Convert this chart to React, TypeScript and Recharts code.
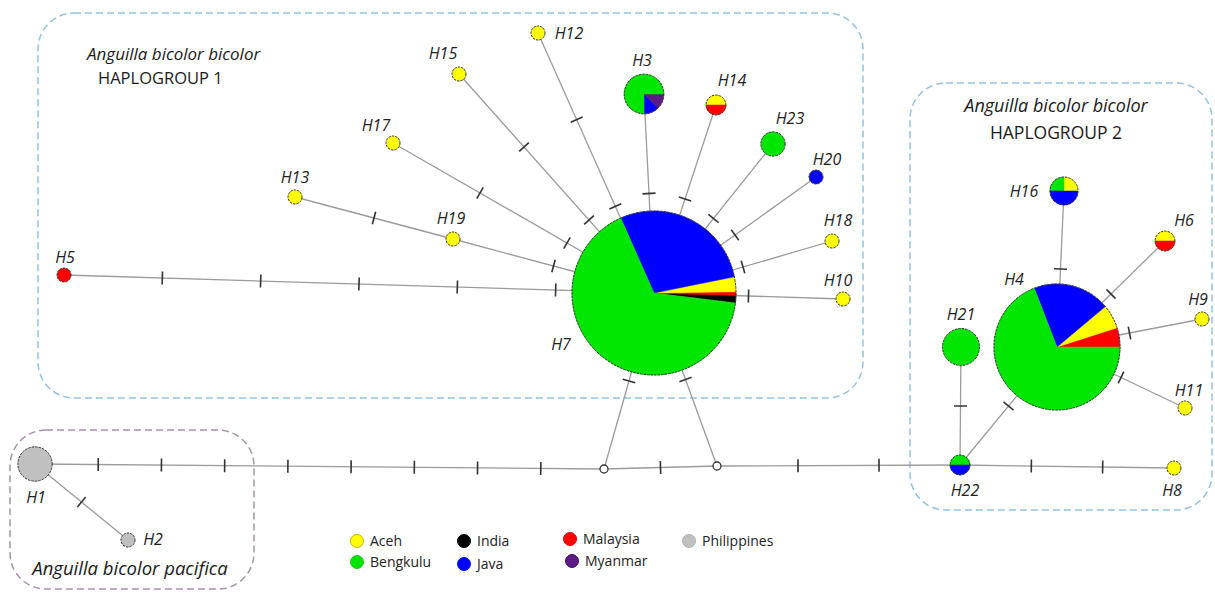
import React from "react";
import {
  ReferenceArea,
  Scatter,
  ScatterChart,
  Sector,
  XAxis,
  YAxis,
  ZAxis,
} from "recharts";

const regions = ["Aceh", "Bengkulu", "India", "Java", "Malaysia", "Myanmar", "Philippines"];

// individuals per haplotype, listed in the order the pie slices are drawn
const haplotypeCounts: Record<string, [string, number][]> = {
  H1: [["Philippines", 6]],
  H2: [["Philippines", 1]],
  H3: [["Java", 1], ["Myanmar", 1], ["Bengkulu", 6]],
  H4: [["Malaysia", 4], ["Aceh", 5], ["Java", 16], ["Bengkulu", 56]],
  H5: [["Malaysia", 1]],
  H6: [["Aceh", 1], ["Malaysia", 1]],
  H7: [["India", 2], ["Malaysia", 1], ["Aceh", 4], ["Java", 39], ["Bengkulu", 91]],
  H8: [["Aceh", 1]],
  H9: [["Aceh", 1]],
  H10: [["Aceh", 1]],
  H11: [["Aceh", 1]],
  H12: [["Aceh", 1]],
  H13: [["Aceh", 1]],
  H14: [["Aceh", 1], ["Malaysia", 1]],
  H15: [["Aceh", 1]],
  H16: [["Aceh", 1], ["Bengkulu", 1], ["Java", 2]],
  H17: [["Aceh", 1]],
  H18: [["Aceh", 1]],
  H19: [["Aceh", 1]],
  H20: [["Java", 1]],
  H21: [["Bengkulu", 7]],
  H22: [["Bengkulu", 1], ["Java", 1]],
  H23: [["Bengkulu", 3]],
};

// [from, to, mutational steps]
const links: [string, string, number][] = [
  ["H1", "mv1", 8],
  ["H1", "H2", 1],
  ["mv1", "mv2", 1],
  ["mv2", "H22", 2],
  ["H22", "H8", 2],
  ["mv1", "H7", 1],
  ["mv2", "H7", 1],
  ["H7", "H5", 5],
  ["H7", "H19", 1],
  ["H19", "H13", 1],
  ["H7", "H17", 2],
  ["H7", "H15", 2],
  ["H7", "H12", 2],
  ["H7", "H3", 1],
  ["H7", "H14", 1],
  ["H7", "H23", 1],
  ["H7", "H20", 1],
  ["H7", "H18", 1],
  ["H7", "H10", 1],
  ["H22", "H21", 1],
  ["H22", "H4", 1],
  ["H4", "H16", 1],
  ["H4", "H6", 1],
  ["H4", "H9", 1],
  ["H4", "H11", 1],
];

const maxCount = 137;

// network layout (x, y), first slice angle and label offset
const nodeLayout: Record<string, { x: number; y: number; start: number; lx: number; ly: number }> = {
  H1: { x: 35, y: 464, start: 0, lx: 1, ly: 33 },
  H2: { x: 128, y: 540, start: 0, lx: 25, ly: -1 },
  H3: { x: 644, y: 94, start: -90, lx: -2, ly: -34 },
  H4: { x: 1057, y: 347, start: 0, lx: -43, ly: -68 },
  H5: { x: 64, y: 275, start: 0, lx: 1, ly: -18 },
  H6: { x: 1165, y: 241, start: 0, lx: 19, ly: -21 },
  H7: { x: 654, y: 293, start: -7, lx: -93, ly: 51 },
  H8: { x: 1174, y: 468, start: 0, lx: -2, ly: 22 },
  H9: { x: 1202, y: 319, start: 0, lx: -4, ly: -20 },
  H10: { x: 843, y: 299, start: 0, lx: -5, ly: -19 },
  H11: { x: 1185, y: 408, start: 0, lx: 4, ly: -18 },
  H12: { x: 538, y: 33, start: 0, lx: 31, ly: 0 },
  H13: { x: 295, y: 197, start: 0, lx: 0, ly: -20 },
  H14: { x: 716, y: 105, start: 0, lx: 16, ly: -25 },
  H15: { x: 459, y: 74, start: 0, lx: -16, ly: -21 },
  H16: { x: 1064, y: 191, start: 0, lx: -40, ly: 0 },
  H17: { x: 393, y: 143, start: 0, lx: -17, ly: -18 },
  H18: { x: 832, y: 241, start: 0, lx: 6, ly: -21 },
  H19: { x: 453, y: 239, start: 0, lx: -2, ly: -21 },
  H20: { x: 816, y: 177, start: 0, lx: 11, ly: -18 },
  H21: { x: 961, y: 347, start: 0, lx: 0, ly: -33 },
  H22: { x: 960, y: 465, start: 0, lx: 5, ly: 25 },
  H23: { x: 773, y: 144, start: 0, lx: 17, ly: -26 },
};

const medianLayout: Record<string, { x: number; y: number }> = {
  mv1: { x: 604, y: 469 },
  mv2: { x: 717, y: 466 },
};

const regionColors: Record<string, string> = {
  Aceh: "#ffff00",
  Bengkulu: "#00e600",
  India: "#000000",
  Java: "#0000ff",
  Malaysia: "#ff0000",
  Myanmar: "#5c1a84",
  Philippines: "#c0c0c0",
};

const legendBorder: Record<string, string> = {
  Aceh: "#c9b300",
  Bengkulu: "#1fc71f",
  India: "#000000",
  Java: "#1010e0",
  Malaysia: "#e00000",
  Myanmar: "#3a1060",
  Philippines: "#b0b0b0",
};

const nodes = Object.keys(haplotypeCounts).map((id) => {
  const slices = haplotypeCounts[id];
  return {
    id,
    ...nodeLayout[id],
    slices,
    total: slices.reduce((s, [, n]) => s + n, 0),
  };
});

const medians = Object.keys(medianLayout).map((id) => ({ id, ...medianLayout[id] }));

function position(id: string) {
  return nodeLayout[id] ?? medianLayout[id];
}

function HaplotypeNode(props: any) {
  const { cx, cy, payload } = props;
  const r = props.width ? props.width / 2 : Math.sqrt(props.size / Math.PI);
  let angle = payload.start;
  const parts = payload.slices.map(([region, n]: [string, number]) => {
    const sweep = (n / payload.total) * 360;
    const part = { region, startAngle: angle, endAngle: angle + sweep };
    angle += sweep;
    return part;
  });

  return (
    <g>
      {parts.length === 1 ? (
        <circle cx={cx} cy={cy} r={r} fill={regionColors[parts[0].region]} />
      ) : (
        parts.map((p: any) => (
          <Sector
            key={p.region}
            cx={cx}
            cy={cy}
            innerRadius={0}
            outerRadius={r}
            startAngle={p.startAngle}
            endAngle={p.endAngle}
            fill={regionColors[p.region]}
            stroke={regionColors[p.region]}
            strokeWidth={0.5}
          />
        ))
      )}
      <circle
        cx={cx}
        cy={cy}
        r={r}
        fill="none"
        stroke="#333"
        strokeWidth={1}
        strokeDasharray="2.5 1"
      />
      <text
        x={cx + payload.lx}
        y={cy + payload.ly}
        textAnchor="middle"
        dominantBaseline="central"
        fontFamily="Open Sans"
        fontStyle="italic"
        fontSize={16}
        fill="#222"
      >
        {payload.id}
      </text>
    </g>
  );
}

function MedianVector(props: any) {
  return <circle cx={props.cx} cy={props.cy} r={4} fill="#fff" stroke="#333" strokeWidth={1.3} />;
}

function renderLink(steps: number) {
  return (p: any) => {
    const [a, b] = p.points;
    const dx = b.x - a.x;
    const dy = b.y - a.y;
    const len = Math.hypot(dx, dy) || 1;
    const nx = (-dy / len) * 6.5;
    const ny = (dx / len) * 6.5;
    return (
      <g>
        <line x1={a.x} y1={a.y} x2={b.x} y2={b.y} stroke="#9b9b9b" strokeWidth={1.3} />
        {Array.from({ length: steps }, (_, i) => {
          const t = (i + 1) / (steps + 1);
          const x = a.x + dx * t;
          const y = a.y + dy * t;
          return (
            <line
              key={i}
              x1={x - nx}
              y1={y - ny}
              x2={x + nx}
              y2={y + ny}
              stroke="#333"
              strokeWidth={1.6}
            />
          );
        })}
      </g>
    );
  };
}

function roundedBox(color: string, titles: { text: string; dx: number; dy: number; size: number; italic?: boolean; anchor?: string }[]) {
  return (p: any) => (
    <g>
      <rect
        x={p.x}
        y={p.y}
        width={p.width}
        height={p.height}
        rx={36}
        ry={36}
        fill="none"
        stroke={color}
        strokeWidth={1.5}
        strokeDasharray="7 4"
      />
      {titles.map((t) => (
        <text
          key={t.text}
          x={p.x + t.dx}
          y={p.y + t.dy}
          textAnchor={t.anchor ?? "middle"}
          fontFamily="Open Sans"
          fontStyle={t.italic ? "italic" : "normal"}
          fontSize={t.size}
          fill="#1a1a1a"
        >
          {t.text}
        </text>
      ))}
    </g>
  );
}

const legendSpots: Record<string, { left: number; top: number }> = {
  Aceh: { left: 350, top: 531 },
  Bengkulu: { left: 350, top: 552 },
  India: { left: 457, top: 531 },
  Java: { left: 457, top: 554 },
  Malaysia: { left: 563, top: 529 },
  Myanmar: { left: 565, top: 551 },
  Philippines: { left: 682, top: 531 },
};

export default function App() {
  return (
    <div style={{ position: "absolute", left: 0, top: 0, width: 1215, height: 592, background: "#fff" }}>
      <ScatterChart width={1215} height={592} margin={{ top: 0, right: 0, bottom: 0, left: 0 }}>
        <XAxis type="number" dataKey="x" domain={[0, 1215]} allowDataOverflow hide />
        <YAxis type="number" dataKey="y" domain={[0, 592]} allowDataOverflow reversed hide />
        <ZAxis type="number" dataKey="total" domain={[0, maxCount]} range={[0, Math.PI * 82 * 82]} />

        <ReferenceArea
          x1={38}
          x2={863}
          y1={13}
          y2={398}
          shape={roundedBox("#93c3e0", [
            { text: "Anguilla bicolor bicolor", dx: 49, dy: 47, size: 17, italic: true, anchor: "start" },
            { text: "HAPLOGROUP 1", dx: 60, dy: 71, size: 16.5, anchor: "start" },
          ])}
        />
        <ReferenceArea
          x1={910}
          x2={1212}
          y1={83}
          y2={510}
          shape={roundedBox("#93c3e0", [
            { text: "Anguilla bicolor bicolor", dx: 146, dy: 29, size: 18, italic: true },
            { text: "HAPLOGROUP 2", dx: 146, dy: 56, size: 17.5 },
          ])}
        />
        <ReferenceArea
          x1={10}
          x2={254}
          y1={430}
          y2={589}
          shape={roundedBox("#a891ab", [
            { text: "Anguilla bicolor pacifica", dx: 120, dy: 145, size: 18.5, italic: true },
          ])}
        />

        {links.map(([from, to, steps]) => (
          <Scatter
            key={`${from}-${to}`}
            data={[position(from), position(to)]}
            line={renderLink(steps)}
            shape={() => <g />}
            isAnimationActive={false}
          />
        ))}

        <Scatter data={medians} shape={MedianVector} isAnimationActive={false} />
        <Scatter data={nodes} shape={HaplotypeNode} isAnimationActive={false} />
      </ScatterChart>

      {regions.map((region) => (
        <div
          key={region}
          style={{
            position: "absolute",
            left: legendSpots[region].left,
            top: legendSpots[region].top,
            display: "flex",
            alignItems: "center",
            fontFamily: "Open Sans",
            fontSize: 14,
            color: "#222",
            whiteSpace: "nowrap",
          }}
        >
          <span
            style={{
              display: "inline-block",
              width: 12,
              height: 12,
              borderRadius: "50%",
              background: regionColors[region],
              border: `1px solid ${legendBorder[region]}`,
              marginRight: 6,
            }}
          />
          {region}
        </div>
      ))}
    </div>
  );
}
